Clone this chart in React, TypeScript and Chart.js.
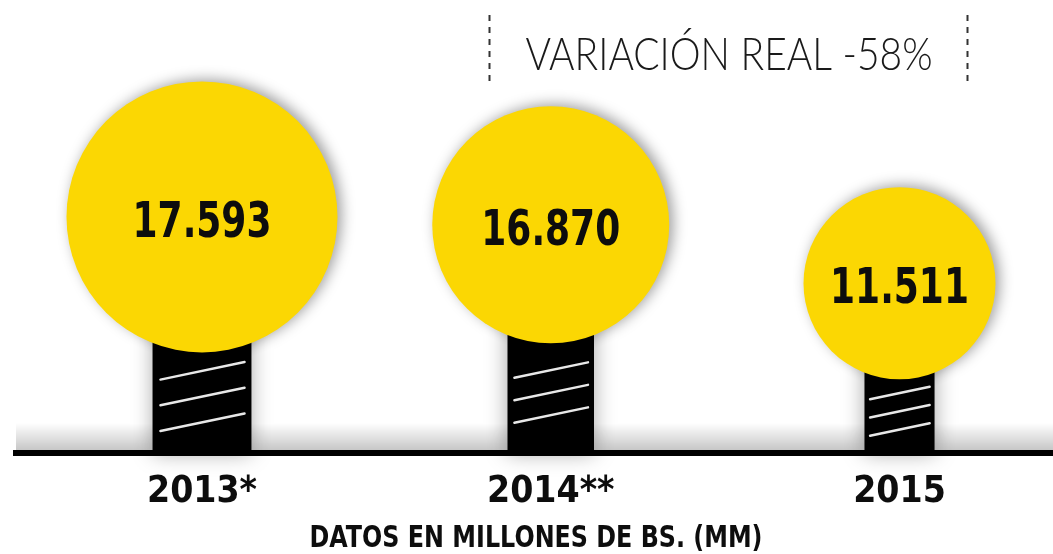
import React, { useEffect, useRef } from 'react';
import { Chart, registerables } from 'chart.js';

Chart.register(...registerables);

// ---------- data ----------
const years: string[] = ['2013*', '2014**', '2015'];
const values: number[] = [17593, 16870, 11511];
const headerText = 'VARIACIÓN REAL -58%';
const footnoteText = 'DATOS EN MILLONES DE BS. (MM)';

// ---------- style ----------
const bulbRadius: number[] = [135.5, 118.5, 96];
const YELLOW = '#FBD703';
const INK = '#0d0d0d';
const NARROW = '"Liberation Sans Narrow", "DejaVu Sans Condensed", "Roboto Condensed", sans-serif';

const fmt = (n: number) => String(n).replace(/\B(?=(\d{3})+(?!\d))/g, '.');

function fitText(ctx: CanvasRenderingContext2D, text: string, cx: number, y: number, targetW: number) {
  const w = ctx.measureText(text).width;
  const s = w > 0 ? targetW / w : 1;
  ctx.save();
  ctx.translate(cx, y);
  ctx.scale(s, 1);
  ctx.textAlign = 'center';
  ctx.textBaseline = 'alphabetic';
  ctx.fillText(text, 0, 0);
  ctx.restore();
}

const bulbPlugin = {
  id: 'bulbPlugin',
  beforeDatasetsDraw(chart: any) {
    const ctx: CanvasRenderingContext2D = chart.ctx;
    const area = chart.chartArea;
    const base = area.bottom;
    // floor shadow
    ctx.save();
    const g = ctx.createLinearGradient(0, base - 30, 0, base - 3);
    g.addColorStop(0, 'rgba(0,0,0,0)');
    g.addColorStop(1, 'rgba(0,0,0,0.22)');
    ctx.fillStyle = g;
    ctx.fillRect(area.left, base - 30, area.right - area.left, 27);
    ctx.restore();

    const meta = chart.getDatasetMeta(0);
    meta.data.forEach((el: any) => {
      const r = el.options.radius;
      const w = 0.73 * r;
      const x0 = el.x - w / 2;
      const top = el.y + 0.5 * r;
      ctx.save();
      ctx.shadowColor = 'rgba(0,0,0,0.35)';
      ctx.shadowBlur = 20;
      ctx.fillStyle = '#000';
      ctx.fillRect(x0, top, w, base - top);
      ctx.restore();

      const visTop = el.y + Math.sqrt(r * r - (w / 2) * (w / 2));
      const center = (visTop + base - 3) / 2;
      const spacing = 0.19 * r;
      const rise = 0.13 * r;
      ctx.save();
      ctx.strokeStyle = '#e8e8e8';
      ctx.lineWidth = 2.5;
      ctx.lineCap = 'round';
      for (let k = -1; k <= 1; k++) {
        const yc = center + k * spacing;
        ctx.beginPath();
        ctx.moveTo(x0 + 0.08 * w, yc + rise / 2);
        ctx.lineTo(x0 + 0.93 * w, yc - rise / 2);
        ctx.stroke();
      }
      ctx.restore();
    });
  },
  beforeDatasetDraw(chart: any) {
    const ctx = chart.ctx;
    ctx.save();
    ctx.shadowColor = 'rgba(0,0,0,0.38)';
    ctx.shadowBlur = 14;
    ctx.shadowOffsetX = 4;
    ctx.shadowOffsetY = -2;
  },
  afterDatasetDraw(chart: any) {
    chart.ctx.restore();
  },
  afterDatasetsDraw(chart: any) {
    const ctx: CanvasRenderingContext2D = chart.ctx;
    const meta = chart.getDatasetMeta(0);
    ctx.save();
    ctx.fillStyle = INK;
    ctx.font = `bold 50px ${NARROW}`;
    ctx.textAlign = 'center';
    ctx.textBaseline = 'alphabetic';
    meta.data.forEach((el: any, i: number) => {
      ctx.save();
      ctx.translate(el.x, el.y + 20);
      ctx.scale(0.8, 1);
      ctx.fillText(fmt(values[i]), 0, 0);
      ctx.restore();
    });
    ctx.restore();
  },
  afterDraw(chart: any) {
    const ctx: CanvasRenderingContext2D = chart.ctx;
    // header
    ctx.save();
    ctx.fillStyle = '#1a1a1a';
    ctx.font = '300 46px Lato, "Open Sans", sans-serif';
    fitText(ctx, headerText, 729, 70, 407);
    ctx.strokeStyle = '#333';
    ctx.lineWidth = 2;
    ctx.setLineDash([6, 6]);
    [489.5, 967.5].forEach((x) => {
      ctx.beginPath();
      ctx.moveTo(x, 15);
      ctx.lineTo(x, 81);
      ctx.stroke();
    });
    ctx.restore();
    // footnote
    ctx.save();
    ctx.fillStyle = INK;
    ctx.font = 'bold 30px "DejaVu Sans", sans-serif';
    fitText(ctx, footnoteText, 536, 547, 453);
    ctx.restore();
  },
};

export default function App() {
  const ref = useRef<HTMLCanvasElement | null>(null);
  useEffect(() => {
    if (!ref.current) return;
    const chart = new Chart(ref.current, {
      type: 'bubble',
      data: {
        datasets: [
          {
            data: values.map((v, i) => ({ x: i, y: v, r: bulbRadius[i] })),
            backgroundColor: YELLOW,
            borderWidth: 0,
            hoverBorderWidth: 0,
            clip: false as any,
          },
        ],
      },
      options: {
        animation: false,
        responsive: true,
        maintainAspectRatio: false,
        events: [],
        layout: { autoPadding: false, padding: { left: 16, top: 0, right: 0, bottom: 0 } },
        plugins: { legend: { display: false }, tooltip: { enabled: false }, title: { display: false } },
        scales: {
          x: {
            type: 'linear',
            min: -0.5333,
            max: 2.4401,
            grid: { display: false, drawTicks: false },
            border: { display: true, color: '#000', width: 6 },
            afterBuildTicks: (scale: any) => {
              scale.ticks = years.map((_, i) => ({ value: i }));
            },
            afterFit: (scale: any) => {
              scale.height = 101;
            },
            ticks: {
              autoSkip: false,
              maxRotation: 0,
              padding: 17,
              color: INK,
              font: { family: NARROW, weight: 'bold', size: 37 },
              callback: (v: any) => years[Math.round(Number(v))] ?? '',
            },
          },
          y: {
            type: 'linear',
            display: false,
            min: -4047,
            max: 37478,
          },
        },
      },
      plugins: [bulbPlugin],
    } as any);
    return () => chart.destroy();
  }, []);
  return (
    <div style={{ position: 'fixed', left: 0, top: 0, width: 1053, height: 554, background: '#fff' }}>
      <canvas ref={ref} />
    </div>
  );
}
